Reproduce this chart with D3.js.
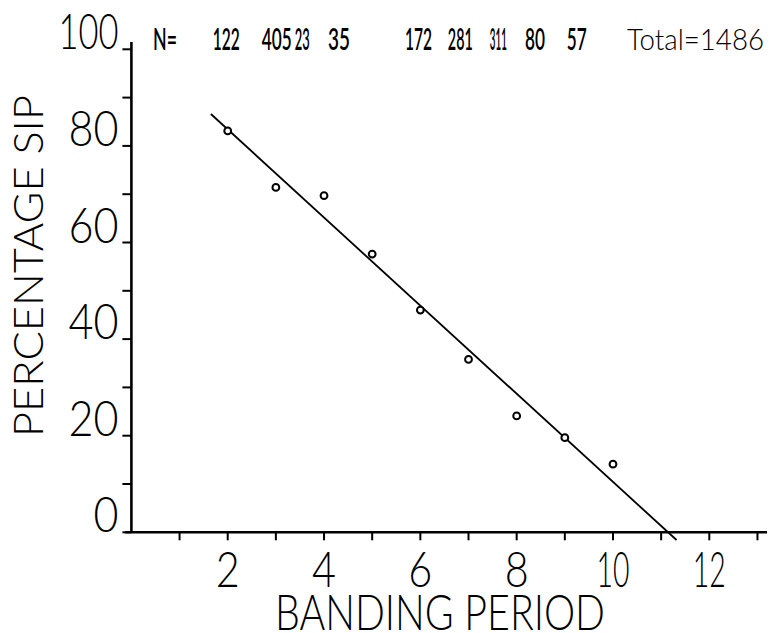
<!DOCTYPE html>
<html>
<head>
<meta charset="utf-8">
<script src="https://cdn.jsdelivr.net/npm/d3@7"></script>
<style>
  html, body { margin: 0; padding: 0; background: #fff; }
  svg text { font-family: Lato, "DejaVu Sans", sans-serif; font-weight: 300; fill: #000; }
</style>
</head>
<body>
<svg id="chart" width="769" height="633"></svg>
<script>
// ---- data ----
const bandingPeriod = [2, 3, 4, 5, 6, 7, 8, 9, 10];
const percentSIP    = [83.1, 71.4, 69.7, 57.6, 46.0, 35.8, 24.1, 19.6, 14.1];
const sampleN       = [122, 405, 23, 35, 172, 281, 311, 80, 57];
const totalN        = 1486;
const fitLineX      = [1.65, 11.32];
const fitLineY      = [86.6, -1.6];
const xTickValues   = [1,2,3,4,5,6,7,8,9,10,11,12,13];
const xTickLabels   = [2,4,6,8,10,12];
const yTickValues   = [0,10,20,30,40,50,60,70,80,90,100];
const yTickLabels   = [0,20,40,60,80,100];
// layout of the hand-lettered N labels (centre in x data units, width in px)
const nLabelX       = [1.97, 3.02, 3.55, 4.31, 5.96, 6.83, 7.62, 8.38, 9.25];
const nLabelW       = [27, 30, 15, 22, 27, 25, 17, 20, 20];

const svg = d3.select("#chart");
const x = d3.scaleLinear().domain([0, 12]).range([131.4, 709.3]);
const y = d3.scaleLinear().domain([0, 100]).range([532.3, 49.3]);

// narrow hand-lettered digit widths
const digitW = s => String(s).split("").reduce((a, c) => a + (c === "1" ? 10 : 25), 0);

// axes lines
svg.append("line").attr("x1", x(0)).attr("x2", x(0))
  .attr("y1", y(101.5)).attr("y2", y(0))
  .attr("stroke", "#000").attr("stroke-width", 2.6);
svg.append("line").attr("x1", x(-0.13)).attr("x2", 767)
  .attr("y1", y(0)).attr("y2", y(0))
  .attr("stroke", "#000").attr("stroke-width", 2.6);

// y ticks (pointing left)
svg.append("g").selectAll("line").data(yTickValues).join("line")
  .attr("x1", x(0) - 9).attr("x2", x(0))
  .attr("y1", d => y(d)).attr("y2", d => y(d))
  .attr("stroke", "#000").attr("stroke-width", 2);

// x ticks (pointing down)
svg.append("g").selectAll("line").data(xTickValues).join("line")
  .attr("x1", d => x(d)).attr("x2", d => x(d))
  .attr("y1", y(0)).attr("y2", y(0) + 8)
  .attr("stroke", "#000").attr("stroke-width", 2);

// y tick labels
svg.append("g").selectAll("text").data(yTickLabels).join("text")
  .attr("x", x(0) - 13).attr("y", d => y(d))
  .attr("text-anchor", "end")
  .attr("font-size", 50)
  .attr("textLength", d => digitW(d)).attr("lengthAdjust", "spacingAndGlyphs")
  .text(d => d);

// x tick labels
svg.append("g").selectAll("text").data(xTickLabels).join("text")
  .attr("x", d => x(d)).attr("y", 587)
  .attr("text-anchor", "middle")
  .attr("font-size", 50)
  .attr("textLength", d => d >= 10 ? 33 : 24).attr("lengthAdjust", "spacingAndGlyphs")
  .text(d => d);

// axis titles
svg.append("text")
  .attr("x", 440).attr("y", 630)
  .attr("text-anchor", "middle")
  .attr("font-size", 49)
  .attr("textLength", 330).attr("lengthAdjust", "spacingAndGlyphs")
  .text("BANDING PERIOD");

svg.append("text")
  .attr("transform", "translate(43,266) rotate(-90)")
  .attr("text-anchor", "middle")
  .attr("font-size", 42)
  .attr("textLength", 342).attr("lengthAdjust", "spacingAndGlyphs")
  .text("PERCENTAGE SIP");

// N row
svg.append("text")
  .attr("x", 153).attr("y", 50)
  .attr("font-size", 30).style("font-weight", 600)
  .attr("textLength", 24).attr("lengthAdjust", "spacingAndGlyphs")
  .text("N=");
svg.append("g").selectAll("text").data(sampleN).join("text")
  .attr("x", (d, i) => x(nLabelX[i])).attr("y", 50)
  .attr("text-anchor", "middle")
  .attr("font-size", 30).style("font-weight", 600)
  .attr("textLength", (d, i) => nLabelW[i]).attr("lengthAdjust", "spacingAndGlyphs")
  .text(d => d);
svg.append("text")
  .attr("x", 627).attr("y", 50)
  .attr("font-size", 30).style("font-weight", 300)
  .attr("textLength", 137).attr("lengthAdjust", "spacingAndGlyphs")
  .text("Total=" + totalN);

// fitted line
const lineGen = d3.line().x(d => x(d[0])).y(d => y(d[1]));
svg.append("path")
  .attr("d", lineGen(d3.zip(fitLineX, fitLineY)))
  .attr("fill", "none").attr("stroke", "#000").attr("stroke-width", 1.8);

// data points
svg.append("g").selectAll("circle").data(d3.zip(bandingPeriod, percentSIP)).join("circle")
  .attr("cx", d => x(d[0])).attr("cy", d => y(d[1]))
  .attr("r", 3.4)
  .attr("fill", "#fff").attr("stroke", "#000").attr("stroke-width", 2);
</script>
</body>
</html>
